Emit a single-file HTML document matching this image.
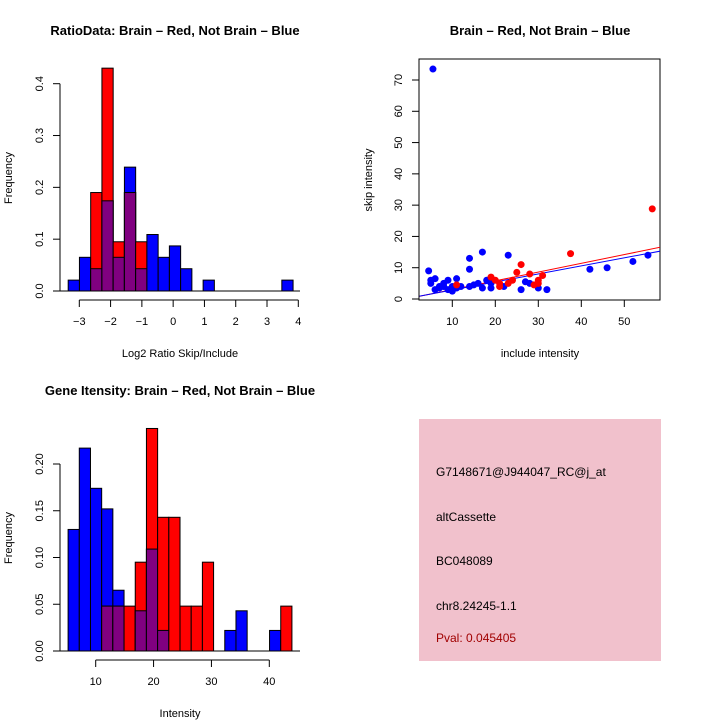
<!DOCTYPE html>
<html><head><meta charset="utf-8"><style>
html,body{margin:0;padding:0;background:#fff;}
svg{display:block;font-family:"Liberation Sans",sans-serif;}
</style></head><body>
<svg id="c" width="720" height="720" viewBox="0 0 720 720" xmlns="http://www.w3.org/2000/svg">
<g id="p1"></g>
<g id="p2"></g>
<g id="p3"></g>
<g id="p4">
<rect x="419" y="419" width="242" height="242" fill="#f1c1cc"/>
<text x="436" y="476" font-size="12">G7148671@J944047_RC@j_at</text>
<text x="436" y="521" font-size="12">altCassette</text>
<text x="436" y="565" font-size="12">BC048089</text>
<text x="436" y="610" font-size="12">chr8.24245-1.1</text>
<text x="436" y="642" font-size="12" fill="#a00000">Pval: 0.045405</text>
</g>
</svg>
<script>
// ---- Panel 1 data: log2 ratio histogram ----
const h1Start = -3.355;
const h1Width = 0.3594;
const h1Blue = [0.021,0.065,0.043,0.174,0.065,0.239,0.043,0.109,0.065,0.087,0.043,0,0.021,0,0,0,0,0,0,0.021];
const h1Red  = [0,0,0.19,0.43,0.095,0.19,0.095,0,0,0,0,0,0,0,0,0,0,0,0,0];
const h1XTicks = [-3,-2,-1,0,1,2,3,4];
const h1YTicks = [0,0.1,0.2,0.3,0.4];
// ---- Panel 2 data: scatter ----
const scBlueX = [5.5,4.5,5,5,6,6,7,7,8,8,9,9,10,10,11,11,12,14,14,14,15,16,17,17,18,19,19,22,23,26,27,28,30,32,42,46,52,55.5];
const scBlueY = [73.5,9,6,5,6.5,3,4,3.5,4,5,6,3,2.5,4,6.5,3.5,4,4,13,9.5,4.5,5,15,3.5,6,5,3.5,4,14,3,5.5,5,3.5,3,9.5,10,12,14];
const scRedX = [11,19,20,21,21,23,24,25,26,28,29,30,30,31,37.5,56.5];
const scRedY = [4.5,7,6,5,4,5,6,8.5,11,8,4.5,6,5,7.5,14.5,28.8];
const fitRed = [0.2,0.28];
const fitBlue = [0.3,0.257];
const scXTicks = [10,20,30,40,50];
const scYTicks = [0,10,20,30,40,50,60,70];
// ---- Panel 3 data: gene intensity histogram ----
const h3Start = 5.23;
const h3Width = 1.934;
const h3Blue = [0.13,0.217,0.174,0.152,0.065,0,0.043,0.109,0.022,0,0,0,0,0,0.022,0.043,0,0,0.022,0];
const h3Red  = [0,0,0,0.048,0.048,0.048,0.095,0.238,0.143,0.143,0.048,0.048,0.095,0,0,0,0,0,0,0.048];
const h3XTicks = [10,20,30,40];
const h3YTicks = [0,0.05,0.1,0.15,0.2];

const NS="http://www.w3.org/2000/svg";
function mk(parent,tag,attrs,txt){const e=document.createElementNS(NS,tag);for(const k in attrs)e.setAttribute(k,attrs[k]);if(txt!==undefined)e.textContent=txt;parent.appendChild(e);return e;}
function lin(d0,d1,r0,r1){return v=>r0+(v-d0)*(r1-r0)/(d1-d0);}
const BLUE="#0000ff",RED="#ff0000",PURP="#800080";

function hist(g,start,w,blue,red,xs,ys){
  for(let i=0;i<blue.length;i++){
    const x0=xs(start+i*w),x1=xs(start+(i+1)*w);
    const b=blue[i],r=red[i],m=Math.min(b,r);
    if(b>0){const e=mk(g,'rect',{x:x0,y:ys(b),width:x1-x0,height:ys(0)-ys(b),fill:BLUE,stroke:'#000','stroke-width':1});
      
      }
    if(r>0){const e=mk(g,'rect',{x:x0,y:ys(r),width:x1-x0,height:ys(0)-ys(r),fill:RED,stroke:'#000','stroke-width':1});
      
      }
    if(m>0){const e=mk(g,'rect',{x:x0,y:ys(m),width:x1-x0,height:ys(0)-ys(m),fill:PURP,stroke:'#000','stroke-width':1});
      
      }
  }
}
function xaxis(g,ticks,xs,y,fmt){
  const a=mk(g,'line',{x1:xs(ticks[0]),x2:xs(ticks[ticks.length-1]),y1:y,y2:y,stroke:'#000'});
  
  
  ticks.forEach(t=>{mk(g,'line',{x1:xs(t),x2:xs(t),y1:y,y2:y+7,stroke:'#000'});
    const l=mk(g,'text',{x:xs(t),y:y+25,'font-size':11,'text-anchor':'middle'},fmt(t));
    
    });
}
function yaxis(g,ticks,ys,x,fmt){
  const a=mk(g,'line',{x1:x,x2:x,y1:ys(ticks[0]),y2:ys(ticks[ticks.length-1]),stroke:'#000'});
  
  
  ticks.forEach(t=>{mk(g,'line',{x1:x,x2:x-7,y1:ys(t),y2:ys(t),stroke:'#000'});
    const l=mk(g,'text',{x:0,y:0,'font-size':11,'text-anchor':'middle',transform:`translate(${x-17},${ys(t)}) rotate(-90)`},fmt(t));
    
    });
}
function label(g,txt,x,y,rot,name,bold,size){
  const l=mk(g,'text',{x:0,y:0,'font-size':size||11,'text-anchor':'middle','font-weight':bold?'bold':'normal',transform:`translate(${x},${y})`+(rot?' rotate(-90)':'')},txt);
  
  
}

// Panel 1
(function(){
  const g=document.getElementById('p1');
  const xs=lin(-3,4,79.3,298.3), ys=lin(0,0.4,291,83.7);
  hist(g,h1Start,h1Width,h1Blue,h1Red,xs,ys);
  mk(g,'line',{x1:60,x2:300,y1:291,y2:291,stroke:'#000'});
  xaxis(g,h1XTicks,xs,300,t=>String(t).replace('-','\u2212'));
  yaxis(g,h1YTicks,ys,60,t=>t.toFixed(1));
  label(g,'RatioData: Brain \u2013 Red, Not Brain \u2013 Blue',175,35,false,'chart-title',true,13);
  label(g,'Log2 Ratio Skip/Include',180,357,false,'x-axis-title');
  label(g,'Frequency',12,178,true,'y-axis-title');
})();
// Panel 2
(function(){
  const g=document.getElementById('p2');
  const xs=lin(0,10,409.3,452.3), ys=lin(0,70,299,80);
  mk(g,'rect',{x:419,y:59,width:241,height:241,fill:'none',stroke:'#000'});
  const clip=mk(g,'clipPath',{id:'cl2'});mk(clip,'rect',{x:419,y:59,width:241,height:241});
  const lg=mk(g,'g',{'clip-path':'url(#cl2)'});
  [[fitRed,RED,'red-fit-line'],[fitBlue,BLUE,'blue-fit-line']].forEach(([f,c,n])=>{
    const l=mk(lg,'line',{x1:xs(0),y1:ys(f[0]),x2:xs(60),y2:ys(f[0]+f[1]*60),stroke:c,'stroke-width':1});
    
    });
  scBlueX.forEach((x,i)=>{const p=mk(g,'circle',{cx:xs(x),cy:ys(scBlueY[i]),r:3.5,fill:BLUE});
    
    });
  scRedX.forEach((x,i)=>{const p=mk(g,'circle',{cx:xs(x),cy:ys(scRedY[i]),r:3.5,fill:RED});
    
    });
  xaxis(g,scXTicks,xs,300,t=>String(t));
  yaxis(g,scYTicks,ys,419,t=>String(t));
  label(g,'Brain \u2013 Red, Not Brain \u2013 Blue',540,35,false,'chart-title',true,13);
  label(g,'include intensity',540,357,false,'x-axis-title');
  label(g,'skip intensity',372,180,true,'y-axis-title');
})();
// Panel 3
(function(){
  const g=document.getElementById('p3');
  const xs=lin(10,40,95.7,269.3), ys=lin(0,0.2,651,464);
  hist(g,h3Start,h3Width,h3Blue,h3Red,xs,ys);
  mk(g,'line',{x1:60,x2:300,y1:651,y2:651,stroke:'#000'});
  xaxis(g,h3XTicks,xs,660,t=>String(t));
  yaxis(g,h3YTicks,ys,60,t=>t.toFixed(2));
  label(g,'Gene Itensity: Brain \u2013 Red, Not Brain \u2013 Blue',180,395,false,'chart-title',true,13);
  label(g,'Intensity',180,717,false,'x-axis-title');
  label(g,'Frequency',12,538,true,'y-axis-title');
})();
</script>
</body></html>
